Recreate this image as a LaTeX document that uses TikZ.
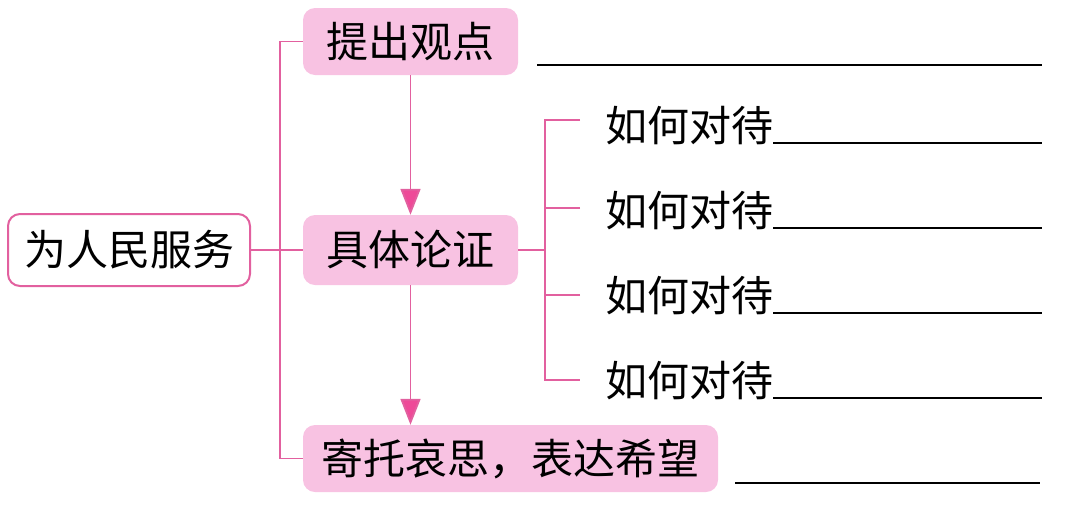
\documentclass[tikz,border=0pt]{standalone}
\usepackage{fontspec}
\setmainfont{Noto Sans CJK SC}
\usetikzlibrary{arrows.meta}

\definecolor{pinkline}{HTML}{E2609F}
\definecolor{pinkfill}{HTML}{F8C2E2}
\definecolor{pinkarrow}{HTML}{EE4A98}

\begin{document}
\begin{tikzpicture}[x=1pt, y=-1pt,
    topic/.style={draw=pinkline, line width=2pt, fill=white, rounded corners=12pt, minimum width=242pt, minimum height=72pt, inner sep=0pt, font=\fontsize{42}{46}\selectfont},
    part/.style={fill=pinkfill, rounded corners=12pt, minimum height=67pt, inner sep=0pt, font=\fontsize{42}{46}\selectfont},
    item/.style={anchor=west, inner sep=0pt, font=\fontsize{42}{46}\selectfont},
    link/.style={draw=pinkline, line width=1.8pt},
    blank/.style={draw=black, line width=1.8pt},
    flow/.style={draw=pinkline, line width=1.8pt, -{Triangle[length=26pt, width=20pt, fill=pinkarrow]}}]

    \useasboundingbox (0,0) rectangle (1068,504);

    % Main parts
    \node[topic] (root) at (129,250) {为人民服务};
    \node[part, minimum width=215pt] (p1) at (410.5,41.5) {提出观点};
    \node[part, minimum width=215pt, minimum height=70pt] (p2) at (410.5,250) {具体论证};
    \node[part, minimum width=415pt] (p3) at (510.5,458.5) {寄托哀思，表达希望};

    % Tree lines
    \draw[link] (root.east) -- (p2.west);
    \draw[link] (p1.west) -- ++(-23,0) |- (p3.west);

    % Arrows
    \draw[flow] (p1) -- (p2);
    \draw[flow] (p2) -- (p2 |- p3.north);

    % Details of the argument
    \node[item] (h1) at (605,126) {如何对待};
    \node[item] (h2) at (605,211) {如何对待};
    \node[item] (h3) at (605,296) {如何对待};
    \node[item] (h4) at (605,381) {如何对待};

    \coordinate (b1) at (580,120);
    \coordinate (b2) at (580,208);
    \coordinate (b3) at (580,295);
    \coordinate (b4) at (580,380);

    \draw[link] (p2.east) -- (545,250);
    \draw[link] (b1) -- (545,120) -- (545,380) -- (b4);
    \draw[link] (b2) -- (545,208);
    \draw[link] (b3) -- (545,295);

    % Blanks
    \draw[blank] (537,65) -- (1042,65);
    \draw[blank] (h1.east |- 0,143) -- (1042,143);
    \draw[blank] (h2.east |- 0,228) -- (1042,228);
    \draw[blank] (h3.east |- 0,313) -- (1042,313);
    \draw[blank] (h4.east |- 0,398) -- (1042,398);
    \draw[blank] (735,483) -- (1040,483);
\end{tikzpicture}
\end{document}
